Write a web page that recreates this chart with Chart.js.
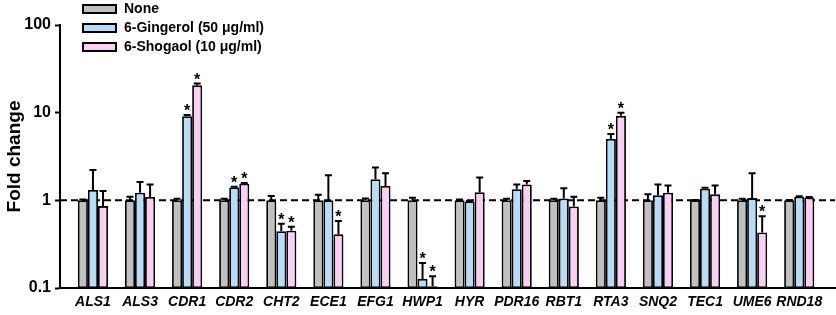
<!DOCTYPE html>
<html>
<head>
<meta charset="utf-8">
<script src="https://cdn.jsdelivr.net/npm/chart.js@4/dist/chart.umd.min.js"></script>
<style>
  html, body { margin: 0; padding: 0; background: #fff; }
  #wrap { width: 836px; height: 315px; position: relative; }
</style>
</head>
<body>
<div id="wrap"><canvas id="c"></canvas></div>
<script>
const genes = ['ALS1','ALS3','CDR1','CDR2','CHT2','ECE1','EFG1','HWP1','HYR','PDR16','RBT1','RTA3','SNQ2','TEC1','UME6','RND18'];
const seriesNames = ['None', '6-Gingerol (50 \u03bcg/ml)', '6-Shogaol (10 \u03bcg/ml)'];

const noneVals     = [1.00,1.00,1.00,1.00,1.00,1.00,1.00,1.00,1.00,1.00,1.00,1.00,1.00,1.00,1.00,1.00];
const noneErrTop   = [1.02,1.10,1.04,1.04,1.12,1.16,1.05,1.07,1.02,1.04,1.04,1.07,1.17,1.01,1.04,1.01];
const gingerolVals = [1.31,1.22,9.1,1.40,0.445,1.00,1.74,0.127,0.97,1.34,1.05,5.0,1.14,1.36,1.06,1.10];
const gingerolErrTop=[2.22,1.62,9.4,1.43,0.54,1.93,2.37,0.193,0.98,1.52,1.37,5.7,1.52,1.39,2.04,1.11];
const shogaolVals  = [0.86,1.09,20.5,1.55,0.45,0.41,1.46,0.105,1.24,1.52,0.85,9.2,1.22,1.17,0.43,1.08];
const shogaolErrTop= [1.28,1.52,21.5,1.58,0.50,0.58,2.04,0.136,1.82,1.66,1.10,10.0,1.48,1.48,0.66,1.09];

const noneSig     = [0,0,0,0,0,0,0,0,0,0,0,0,0,0,0,0];
const gingerolSig = [0,0,1,1,1,0,0,1,0,0,0,1,0,0,0,0];
const shogaolSig  = [0,0,1,1,1,1,0,1,0,0,0,1,0,0,1,0];

const yTicks = [0.1, 1, 10, 100];
const yTickLabels = ['0.1', '1', '10', '100'];
const refLine = 1;

const colors = ['#c0c0c0', '#b6dcf8', '#fbcff4'];
const errTops = [noneErrTop, gingerolErrTop, shogaolErrTop];
const sigs = [noneSig, gingerolSig, shogaolSig];

function pts(vals) { return vals.map((v, i) => ({ x: i, y: v })); }

const overlay = {
  id: 'overlay',
  beforeDatasetsDraw(chart) {
    const { ctx, chartArea, scales } = chart;
    const y = scales.y.getPixelForValue(refLine);
    ctx.save();
    ctx.strokeStyle = '#000';
    ctx.lineWidth = 2;
    ctx.setLineDash([7, 4]);
    ctx.beginPath();
    ctx.moveTo(chartArea.left, y);
    ctx.lineTo(chartArea.right, y);
    ctx.stroke();
    ctx.restore();
  },
  afterDatasetsDraw(chart) {
    const { ctx, scales } = chart;
    ctx.save();
    chart.data.datasets.forEach((ds, di) => {
      const meta = chart.getDatasetMeta(di);
      meta.data.forEach((bar, i) => {
        const top = errTops[di][i];
        const yTop = scales.y.getPixelForValue(top);
        ctx.strokeStyle = '#000';
        ctx.lineWidth = 2;
        ctx.beginPath();
        ctx.moveTo(bar.x, bar.y);
        ctx.lineTo(bar.x, yTop);
        ctx.moveTo(bar.x - 3.5, yTop);
        ctx.lineTo(bar.x + 3.5, yTop);
        ctx.stroke();
        if (sigs[di][i]) {
          ctx.fillStyle = '#000';
          ctx.font = 'bold 16px "Liberation Sans", Arial, sans-serif';
          ctx.textAlign = 'center';
          ctx.textBaseline = 'alphabetic';
          ctx.fillText('*', bar.x, Math.min(yTop, bar.y) + 1);
        }
      });
    });
    ctx.restore();
  },
  afterDraw(chart) {
    const { ctx } = chart;
    ctx.save();
    const rows = [9, 28, 47];
    seriesNames.forEach((name, i) => {
      const yc = rows[i];
      ctx.fillStyle = colors[i];
      ctx.fillRect(83, yc - 4, 33, 8);
      ctx.strokeStyle = '#000';
      ctx.lineWidth = 2;
      ctx.strokeRect(83, yc - 4, 33, 8);
      ctx.fillStyle = '#000';
      ctx.font = 'bold 14px "Liberation Sans", Arial, sans-serif';
      ctx.textAlign = 'left';
      ctx.textBaseline = 'middle';
      ctx.fillText(name, 124, yc + 0.5);
    });
    ctx.restore();
  }
};

new Chart(document.getElementById('c'), {
  type: 'bar',
  data: {
    datasets: [
      { label: seriesNames[0], data: pts(noneVals), backgroundColor: colors[0] },
      { label: seriesNames[1], data: pts(gingerolVals), backgroundColor: colors[1] },
      { label: seriesNames[2], data: pts(shogaolVals), backgroundColor: colors[2] }
    ].map(d => Object.assign(d, {
      borderColor: '#000', borderWidth: 1.8, borderSkipped: false,
      categoryPercentage: 0.64, barPercentage: 1.0
    }))
  },
  options: {
    responsive: true,
    maintainAspectRatio: false,
    animation: false,
    devicePixelRatio: 1,
    layout: { padding: { top: 25, right: 1, left: 0, bottom: 0 } },
    plugins: { legend: { display: false }, tooltip: { enabled: false } },
    scales: {
      x: {
        type: 'linear',
        min: -0.7,
        max: 15.76,
        offset: false,
        afterBuildTicks: s => { s.ticks = genes.map((g, i) => ({ value: i })); },
        afterFit: s => { s.height = 27; },
        grid: { display: false, drawTicks: false },
        border: { display: true, color: '#000', width: 2 },
        ticks: {
          autoSkip: false, maxRotation: 0, padding: 6, color: '#000',
          font: { family: '"Liberation Sans", Arial, sans-serif', size: 14, weight: 'bold', style: 'italic' },
          callback: v => genes[v]
        }
      },
      y: {
        type: 'logarithmic',
        min: 0.1,
        max: 100,
        afterBuildTicks: s => { s.ticks = yTicks.map(v => ({ value: v, major: true })); },
        afterFit: s => { s.width = 60; },
        grid: { drawOnChartArea: false, drawTicks: true, tickLength: 5, tickColor: '#000', tickWidth: 2 },
        border: { display: true, color: '#000', width: 2 },
        ticks: {
          padding: 4, color: '#000',
          font: { family: '"Liberation Sans", Arial, sans-serif', size: 16, weight: 'bold' },
          callback: (v) => { const k = yTicks.indexOf(v); return k >= 0 ? yTickLabels[k] : ''; }
        },
        title: {
          display: true, text: 'Fold change', color: '#000',
          padding: { top: 3, bottom: 0 },
          font: { family: '"Liberation Sans", Arial, sans-serif', size: 19, weight: 'bold' }
        }
      }
    }
  },
  plugins: [overlay]
});
</script>
</body>
</html>
